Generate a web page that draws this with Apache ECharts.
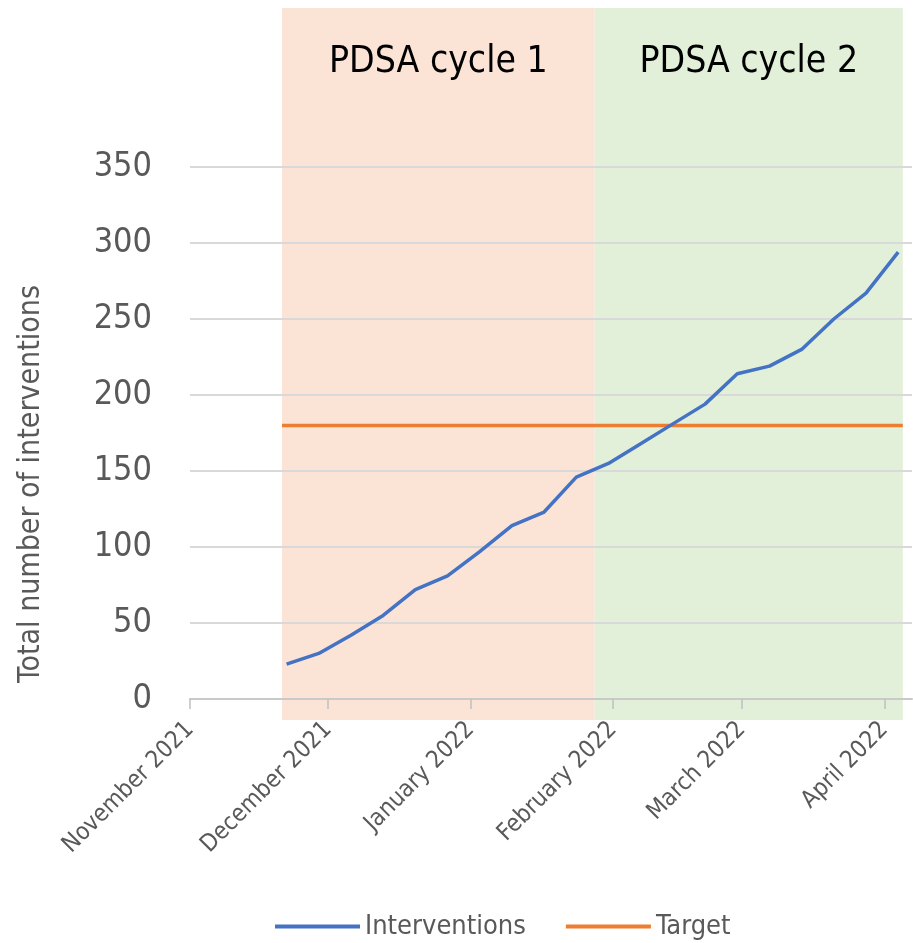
<!DOCTYPE html>
<html>
<head>
<meta charset="utf-8">
<script src="https://cdn.jsdelivr.net/npm/echarts@6/dist/echarts.min.js"></script>
<style>
html, body { margin: 0; padding: 0; background: #fff; }
#chart { width: 913px; height: 943px; }
</style>
</head>
<body>
<div id="chart"></div>
<script>
var weekDates = ['2021-11-22', '2021-11-29', '2021-12-06', '2021-12-13', '2021-12-20', '2021-12-27',
    '2022-01-03', '2022-01-10', '2022-01-17', '2022-01-24', '2022-01-31', '2022-02-07',
    '2022-02-14', '2022-02-21', '2022-02-28', '2022-03-07', '2022-03-14', '2022-03-21',
    '2022-03-28', '2022-04-04'];
var interventions = [23, 30, 42, 55, 72, 81, 97, 114, 123, 146, 155, 168, 181, 194, 214, 219, 230, 250, 267, 294];
var targetDates = ['2021-11-21', '2022-04-05'];
var targetValue = 180;
var cycleNames = ['PDSA cycle 1', 'PDSA cycle 2'];
var cycleBounds = ['2021-11-21', '2022-01-28', '2022-04-05'];
var monthTicks = ['2021-11-01', '2021-12-01', '2022-01-01', '2022-02-01', '2022-03-01', '2022-04-01'];
var monthNames = ['January', 'February', 'March', 'April', 'May', 'June', 'July',
    'August', 'September', 'October', 'November', 'December'];
var axisMin = '2021-11-01';
var axisMax = '2022-04-07';

function ts(s) {
    var p = s.split('-');
    return new Date(+p[0], +p[1] - 1, +p[2]).getTime();
}

var FONT = "'DejaVu Sans Condensed', 'Liberation Sans Narrow', sans-serif";

var chart = echarts.init(document.getElementById('chart'));

// x axis is a plain value axis on timestamps so month ticks can be placed exactly
var option = {
    backgroundColor: '#ffffff',
    animation: false,
    textStyle: { fontFamily: FONT },
    legend: {
        data: ['Interventions', 'Target'],
        left: 270,
        top: 908,
        icon: 'rect',
        itemWidth: 85,
        itemHeight: 4,
        itemGap: 40,
        textStyle: { fontSize: 27, color: '#595959', fontFamily: FONT }
    },
    graphic: [{
        type: 'text',
        x: 31,
        y: 484,
        rotation: Math.PI / 2,
        style: {
            text: 'Total number of interventions',
            font: '30px ' + FONT,
            fill: '#595959',
            textAlign: 'center',
            textVerticalAlign: 'middle'
        }
    }],
    grid: [
        { left: 190, right: 1, top: 167, bottom: 244 },
        { left: 190, right: 1, top: 8, bottom: 223 }
    ],
    xAxis: [{
        type: 'value',
        gridIndex: 0,
        z: 3,
        min: ts(axisMin),
        max: ts(axisMax),
        axisLine: { show: true, lineStyle: { color: '#c9c9c9', width: 2 } },
        axisTick: {
            show: true,
            length: 10,
            customValues: monthTicks.map(ts),
            lineStyle: { color: '#c0c0c0', width: 1.5 }
        },
        splitLine: { show: false },
        axisLabel: {
            customValues: monthTicks.map(ts),
            rotate: 45,
            margin: 27,
            fontSize: 24,
            color: '#595959',
            fontFamily: FONT,
            formatter: function (v) {
                var d = new Date(v);
                return monthNames[d.getMonth()] + ' ' + d.getFullYear();
            }
        }
    }, {
        type: 'value',
        gridIndex: 1,
        min: ts(axisMin),
        max: ts(axisMax),
        show: false
    }],
    yAxis: [{
        type: 'value',
        gridIndex: 0,
        z: 3,
        min: 0,
        max: 350,
        interval: 50,
        axisLine: { show: false },
        axisTick: { show: false },
        splitLine: { lineStyle: { color: '#d9d9d9', width: 2 } },
        axisLabel: { fontSize: 34, color: '#595959', margin: 38, fontFamily: FONT }
    }, {
        type: 'value',
        gridIndex: 1,
        min: 0,
        max: 1,
        show: false
    }],
    series: [{
        name: 'cycles',
        type: 'line',
        xAxisIndex: 1,
        yAxisIndex: 1,
        z: 1,
        silent: true,
        symbol: 'none',
        lineStyle: { opacity: 0 },
        data: [[ts(cycleBounds[0]), 0]],
        markArea: {
            silent: true,
            z: 1,
            label: {
                show: true,
                position: 'insideTop',
                distance: 36,
                fontSize: 37,
                color: '#000000',
                fontFamily: FONT
            },
            data: [
                [{ name: cycleNames[0], xAxis: ts(cycleBounds[0]), itemStyle: { color: '#fbe4d6' } },
                 { xAxis: ts(cycleBounds[1]) }],
                [{ name: cycleNames[1], xAxis: ts(cycleBounds[1]), itemStyle: { color: '#e2f0d9' } },
                 { xAxis: ts(cycleBounds[2]) }]
            ]
        }
    }, {
        name: 'Interventions',
        type: 'line',
        z: 6,
        symbol: 'none',
        lineStyle: { color: '#4472c4', width: 3.5 },
        itemStyle: { color: '#4472c4' },
        data: weekDates.map(function (d, i) { return [ts(d), interventions[i]]; })
    }, {
        name: 'Target',
        type: 'line',
        z: 5,
        symbol: 'none',
        lineStyle: { color: '#ed7d31', width: 3.5 },
        itemStyle: { color: '#ed7d31' },
        data: targetDates.map(function (d) { return [ts(d), targetValue]; })
    }]
};
chart.setOption(option);
</script>
</body>
</html>
